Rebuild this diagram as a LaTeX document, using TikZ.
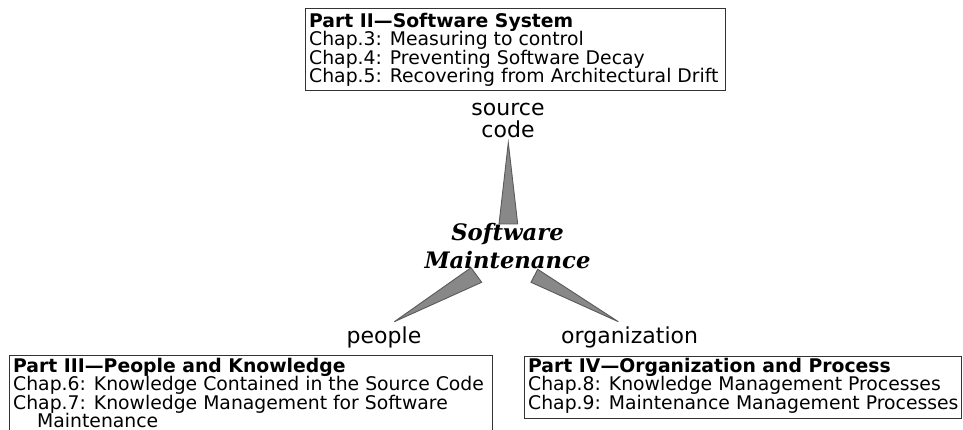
\documentclass[tikz,border=0pt]{standalone}
\usepackage{fontspec}
\setmainfont{DejaVu Sans}
\newfontfamily\smfont{DejaVu Serif}
\definecolor{wedgefill}{HTML}{888888}
\definecolor{wedgeline}{HTML}{5A5A5A}
\definecolor{frameline}{HTML}{333333}
\begin{document}
\begin{tikzpicture}[x=1pt,y=-1pt,
  frame/.style={draw=frameline, line width=1pt, anchor=north west, inner sep=0pt},
  boxtext/.style={anchor=north west, inner sep=0pt, align=left, font=\fontsize{18.8}{18.5}\selectfont},
  lbl/.style={inner sep=0pt, align=center, font=\fontsize{22}{22}\selectfont},
  centertext/.style={inner sep=0pt, align=center, anchor=north, font=\smfont\bfseries\itshape\fontsize{22.7}{28}\selectfont},
  wedge/.style={fill=wedgefill, draw=wedgeline, line width=0.9pt, line join=miter}]
\useasboundingbox (0,0) rectangle (963,430);

% boxes
\node[frame, minimum width=420pt, minimum height=82pt] (f2) at (305,8) {};
\node[boxtext] (t2) at (309,13) {\rule{0pt}{14pt}\textbf{Part II—Software System}\\
Chap.3: Measuring to control\\
Chap.4: Preventing Software Decay\\
Chap.5: Recovering from Architectural Drift};

\node[frame, minimum width=483pt, minimum height=100pt] (f3) at (9,354.5) {};
\node[boxtext] (t3) at (13,358) {\rule{0pt}{14pt}\textbf{Part III—People and Knowledge}\\
Chap.6: Knowledge Contained in the Source Code\\
Chap.7: Knowledge Management for Software\\
\hspace*{24pt}Maintenance};

\node[frame, minimum width=437pt, minimum height=62pt] (f4) at (524,355.5) {};
\node[boxtext] (t4) at (528,358) {\rule{0pt}{14pt}\textbf{Part IV—Organization and Process}\\
Chap.8: Knowledge Management Processes\\
Chap.9: Maintenance Management Processes};

% labels
\node[lbl, anchor=north] (src) at (508,98) {\rule{0pt}{17pt}source\\code};
\node[lbl, anchor=base] (people) at (384,343) {people};
\node[lbl, anchor=base] (org) at (629.6,343) {organization};
\node[centertext] (sm) at (507.5,222) {\rule{0pt}{18pt}Software\\Maintenance};

% wedges
\coordinate (a1) at (508.3,142.7);
\coordinate (b1) at (499,224);
\coordinate (c1) at (517.7,224);
\coordinate (a2) at (394.3,321.7);
\coordinate (b2) at (471,267.7);
\coordinate (c2) at (481.7,282.3);
\coordinate (a3) at (618.3,321.7);
\coordinate (b3) at (537.7,269.3);
\coordinate (c3) at (531,282.3);
\draw[wedge] (a1) -- (b1) -- (c1) -- cycle;
\draw[wedge] (a2) -- (b2) -- (c2) -- cycle;
\draw[wedge] (a3) -- (b3) -- (c3) -- cycle;
\end{tikzpicture}
\end{document}
